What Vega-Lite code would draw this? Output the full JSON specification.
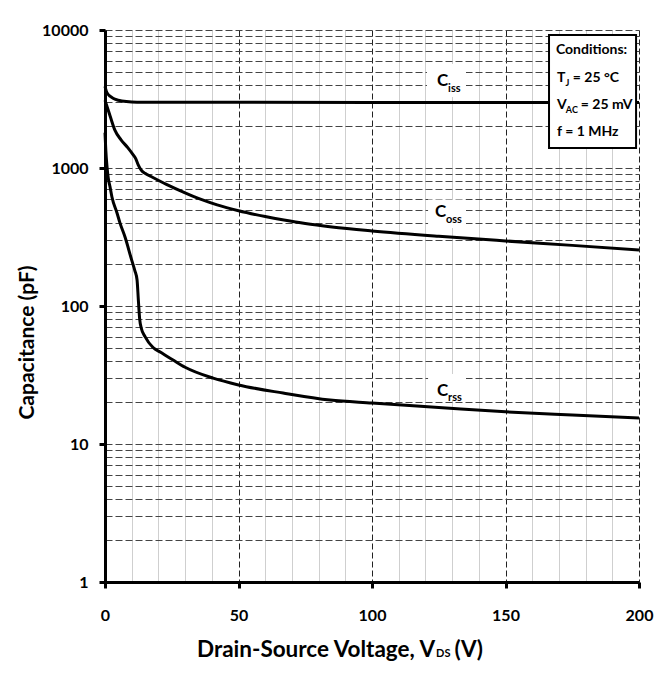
{
  "$schema": "https://vega.github.io/schema/vega-lite/v6.json",
  "width": 534,
  "height": 552,
  "autosize": {"type": "none"},
  "padding": {"left": 105, "top": 30, "right": 20, "bottom": 93},
  "background": "white",
  "config": {"view": {"stroke": null}, "font": "Lato"},
  "datasets": {
    "curves": [
      {"series": "Ciss", "v": 0, "c": 3900},
      {"series": "Ciss", "v": 0.5, "c": 3600},
      {"series": "Ciss", "v": 1, "c": 3450},
      {"series": "Ciss", "v": 2, "c": 3300},
      {"series": "Ciss", "v": 3, "c": 3200},
      {"series": "Ciss", "v": 5, "c": 3100},
      {"series": "Ciss", "v": 8, "c": 3030},
      {"series": "Ciss", "v": 12, "c": 3000},
      {"series": "Ciss", "v": 50, "c": 2990},
      {"series": "Ciss", "v": 100, "c": 2985},
      {"series": "Ciss", "v": 150, "c": 2985},
      {"series": "Ciss", "v": 200, "c": 2985},
      {"series": "Coss", "v": 0, "c": 3100},
      {"series": "Coss", "v": 1, "c": 2700},
      {"series": "Coss", "v": 2, "c": 2350},
      {"series": "Coss", "v": 3.7, "c": 1880},
      {"series": "Coss", "v": 6, "c": 1600},
      {"series": "Coss", "v": 8.6, "c": 1400},
      {"series": "Coss", "v": 10.5, "c": 1250},
      {"series": "Coss", "v": 11.5, "c": 1170},
      {"series": "Coss", "v": 12.4, "c": 1060},
      {"series": "Coss", "v": 13.5, "c": 970},
      {"series": "Coss", "v": 15, "c": 915},
      {"series": "Coss", "v": 17.6, "c": 860},
      {"series": "Coss", "v": 23, "c": 760},
      {"series": "Coss", "v": 30, "c": 660},
      {"series": "Coss", "v": 36, "c": 592},
      {"series": "Coss", "v": 42, "c": 540},
      {"series": "Coss", "v": 50, "c": 490},
      {"series": "Coss", "v": 60, "c": 445},
      {"series": "Coss", "v": 67, "c": 420},
      {"series": "Coss", "v": 75, "c": 396},
      {"series": "Coss", "v": 85, "c": 374},
      {"series": "Coss", "v": 100, "c": 350},
      {"series": "Coss", "v": 125, "c": 320},
      {"series": "Coss", "v": 150, "c": 296},
      {"series": "Coss", "v": 175, "c": 275},
      {"series": "Coss", "v": 200, "c": 255},
      {"series": "Crss", "v": 0, "c": 1800},
      {"series": "Crss", "v": 0.3, "c": 1350},
      {"series": "Crss", "v": 0.7, "c": 1050},
      {"series": "Crss", "v": 1.2, "c": 850},
      {"series": "Crss", "v": 1.9, "c": 728},
      {"series": "Crss", "v": 2.6, "c": 616},
      {"series": "Crss", "v": 4.5, "c": 472},
      {"series": "Crss", "v": 5.6, "c": 400},
      {"series": "Crss", "v": 7.5, "c": 316},
      {"series": "Crss", "v": 10, "c": 215},
      {"series": "Crss", "v": 11.2, "c": 180},
      {"series": "Crss", "v": 12, "c": 155},
      {"series": "Crss", "v": 12.5, "c": 110},
      {"series": "Crss", "v": 13, "c": 80},
      {"series": "Crss", "v": 13.6, "c": 69},
      {"series": "Crss", "v": 15, "c": 60},
      {"series": "Crss", "v": 18, "c": 50},
      {"series": "Crss", "v": 21, "c": 46},
      {"series": "Crss", "v": 25.5, "c": 40.6},
      {"series": "Crss", "v": 30, "c": 36},
      {"series": "Crss", "v": 40.5, "c": 30},
      {"series": "Crss", "v": 50, "c": 26.8},
      {"series": "Crss", "v": 66.7, "c": 23.4},
      {"series": "Crss", "v": 84.3, "c": 20.8},
      {"series": "Crss", "v": 100, "c": 19.8},
      {"series": "Crss", "v": 125, "c": 18.4},
      {"series": "Crss", "v": 150, "c": 17.1},
      {"series": "Crss", "v": 175, "c": 16.2},
      {"series": "Crss", "v": 200, "c": 15.4}
    ],
    "labelBoxes": [
      {"series": "Ciss", "v": 120.6, "v2": 135.2, "c": 5672, "c2": 3268},
      {"series": "Coss", "v": 121, "v2": 135.2, "c": 590, "c2": 367},
      {"series": "Crss", "v": 121, "v2": 135.2, "c": 32.2, "c2": 20.8}
    ],
    "condBox": [
      {"v": 166.3, "v2": 198.9, "c": 9200, "c2": 1397}
    ],
    "curveMain": [
      {"v": 124.3, "c": 4268, "text": "C"},
      {"v": 123.6, "c": 480, "text": "C"},
      {"v": 124.3, "c": 24.2, "text": "C"}
    ],
    "curveSub": [
      {"v": 128.5, "c": 3736, "text": "iss"},
      {"v": 127.7, "c": 420, "text": "oss"},
      {"v": 128.5, "c": 21.5, "text": "rss"}
    ],
    "condMain": [
      {"v": 168.9, "c": 7164, "text": "Conditions:"},
      {"v": 169.3, "c": 4488, "text": "T"},
      {"v": 175.2, "c": 4488, "text": "= 25 °C"},
      {"v": 169.3, "c": 2862, "text": "V"},
      {"v": 178.2, "c": 2862, "text": "= 25 mV"},
      {"v": 169.3, "c": 1824, "text": "f = 1 MHz"}
    ],
    "condSub": [
      {"v": 172.5, "c": 4130, "text": "J"},
      {"v": 172.6, "c": 2631, "text": "AC"}
    ],
    "xTitleMain": [
      {"v": 123.6, "c": 0.3212, "text": "Drain-Source Voltage, V"}
    ],
    "xTitleSub": [
      {"v": 124.0, "c": 0.301, "text": "DS"}
    ],
    "xTitleEnd": [
      {"v": 130.9, "c": 0.3212, "text": "(V)"}
    ]
  },
  "encoding": {
    "x": {
      "field": "v", "type": "quantitative",
      "scale": {"domain": [0, 200], "nice": false, "zero": false},
      "axis": {
        "title": null,
        "values": [0,10,20,30,40,50,60,70,80,90,100,110,120,130,140,150,160,170,180,190,200],
        "grid": true,
        "gridColor": {"condition": {"test": "datum.value % 50 == 0", "value": "#222222"}, "value": "#cfcfcf"},
        "gridDash": {"condition": {"test": "datum.value % 50 == 0", "value": [6, 3]}, "value": []},
        "gridWidth": 1,
        "domainColor": "black",
        "domainWidth": 3,
        "tickColor": "black",
        "tickWidth": 3,
        "tickSize": 6,
        "tickOpacity": {"condition": {"test": "datum.value % 50 == 0", "value": 1}, "value": 0},
        "labelExpr": "datum.value % 50 == 0 ? format(datum.value, 'd') : ''",
        "labelFont": "Lato",
        "labelFontSize": 16,
        "labelFontWeight": "bold",
        "labelColor": "black",
        "labelPadding": 19,
        "labelOverlap": false,
        "labelFlush": false,
        "labelBound": false
      }
    },
    "y": {
      "field": "c", "type": "quantitative",
      "scale": {"type": "log", "domain": [1, 10000], "nice": false},
      "axis": {
        "title": "Capacitance (pF)",
        "titleFont": "Lato",
        "titleFontSize": 21,
        "titleFontWeight": "bold",
        "titleColor": "black",
        "titleX": -78,
        "titleY": 312,
        "titleAngle": -90,
        "titleAlign": "center",
        "titleBaseline": "middle",
        "values": [1,2,3,4,5,6,7,8,9,10,20,30,40,50,60,70,80,90,100,200,300,400,500,600,700,800,900,1000,2000,3000,4000,5000,6000,7000,8000,9000,10000],
        "grid": true,
        "gridColor": "#444444",
        "gridDash": [7, 3],
        "gridWidth": 1,
        "domainColor": "black",
        "domainWidth": 3,
        "tickColor": "black",
        "tickWidth": 3,
        "tickSize": 6,
        "tickOpacity": {"condition": {"test": "indexof([1,10,100,1000,10000], datum.value) >= 0", "value": 1}, "value": 0},
        "labelExpr": "indexof([1,10,100,1000,10000], datum.value) >= 0 ? format(datum.value, 'd') : ''",
        "labelFont": "Lato",
        "labelFontSize": 16,
        "labelFontWeight": "bold",
        "labelColor": "black",
        "labelPadding": 11,
        "labelOverlap": false,
        "labelBound": false,
        "labelFlush": false
      }
    }
  },
  "layer": [
    {
      "data": {"name": "curves"},
      "mark": {"type": "line", "color": "black", "strokeWidth": 3, "interpolate": "monotone"},
      "encoding": {
        "detail": {"field": "series", "type": "nominal"}
      }
    },
    {
      "data": {"name": "labelBoxes"},
      "mark": {"type": "rect", "fill": "white"},
      "encoding": {
        "x2": {"field": "v2"},
        "y2": {"field": "c2"}
      }
    },
    {
      "data": {"name": "condBox"},
      "mark": {"type": "rect", "fill": "white", "stroke": "black", "strokeWidth": 2},
      "encoding": {
        "x2": {"field": "v2"},
        "y2": {"field": "c2"}
      }
    },
    {
      "data": {"name": "curveMain"},
      "mark": {"type": "text", "font": "Lato", "fontSize": 17, "fontWeight": "bold", "color": "black", "align": "left", "baseline": "middle"},
      "encoding": {"text": {"field": "text"}}
    },
    {
      "data": {"name": "curveSub"},
      "mark": {"type": "text", "font": "Lato", "fontSize": 11, "fontWeight": "bold", "color": "black", "align": "left", "baseline": "middle"},
      "encoding": {"text": {"field": "text"}}
    },
    {
      "data": {"name": "condMain"},
      "mark": {"type": "text", "font": "Lato", "fontSize": 14, "fontWeight": "bold", "color": "black", "align": "left", "baseline": "middle"},
      "encoding": {"text": {"field": "text"}}
    },
    {
      "data": {"name": "condSub"},
      "mark": {"type": "text", "font": "Lato", "fontSize": 9, "fontWeight": "bold", "color": "black", "align": "left", "baseline": "middle"},
      "encoding": {"text": {"field": "text"}}
    },
    {
      "data": {"name": "xTitleMain"},
      "mark": {"type": "text", "font": "Lato", "fontSize": 22.5, "fontWeight": "bold", "color": "black", "align": "right", "baseline": "middle"},
      "encoding": {"text": {"field": "text"}}
    },
    {
      "data": {"name": "xTitleSub"},
      "mark": {"type": "text", "font": "Lato", "fontSize": 11, "fontWeight": "bold", "color": "black", "align": "left", "baseline": "middle"},
      "encoding": {"text": {"field": "text"}}
    },
    {
      "data": {"name": "xTitleEnd"},
      "mark": {"type": "text", "font": "Lato", "fontSize": 22.5, "fontWeight": "bold", "color": "black", "align": "left", "baseline": "middle"},
      "encoding": {"text": {"field": "text"}}
    }
  ]
}
